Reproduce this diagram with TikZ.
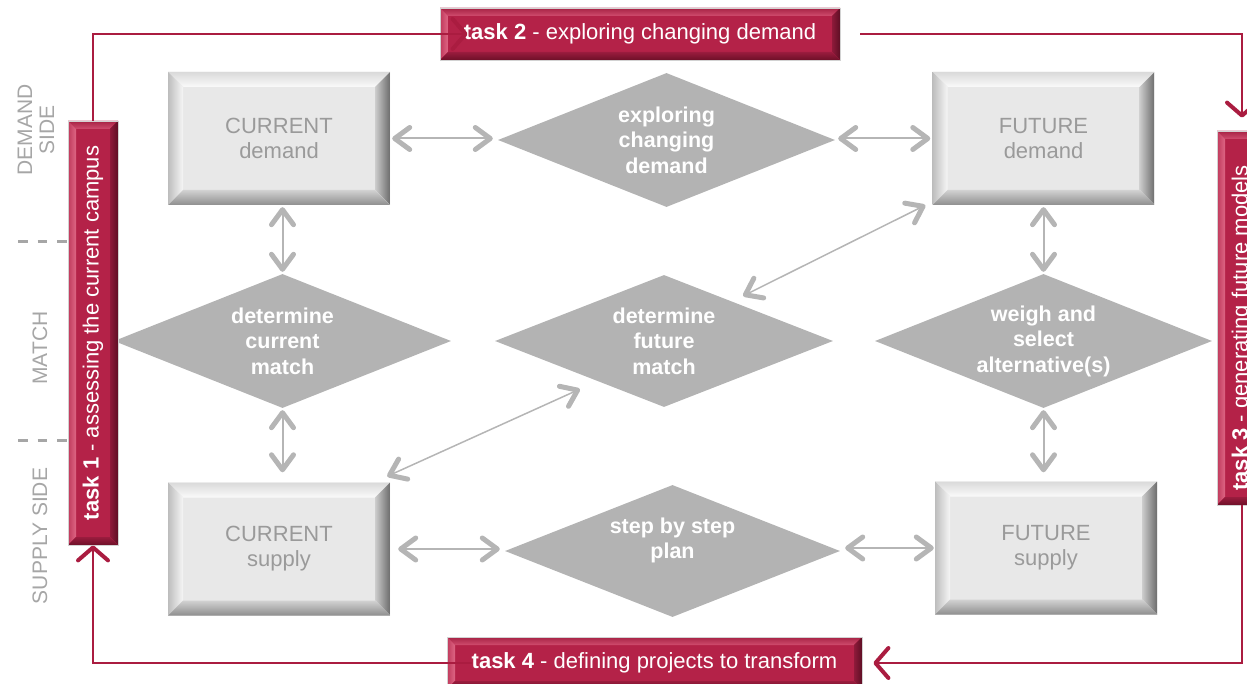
\documentclass[tikz,border=0pt]{standalone}
\usepackage{fontspec}
\setmainfont{Liberation Sans}
\usepackage{graphicx}
\usetikzlibrary{shapes.geometric,arrows.meta,calc}

% palette
\definecolor{boxface}{HTML}{E8E8E8}
\definecolor{boxtext}{HTML}{9A9A9A}
\definecolor{diafill}{HTML}{B3B3B3}
\definecolor{agrey}{HTML}{B5B5B5}
\definecolor{sidegrey}{HTML}{A6A6A6}
\definecolor{crimson}{RGB}{180,34,72}
\definecolor{crimsonline}{RGB}{170,28,64}
\definecolor{bannerrim}{HTML}{D2D2D2}
% bevel shades, grey boxes
\definecolor{gTopO}{HTML}{DADADA}
\definecolor{gTopI}{HTML}{FAFAFA}
\definecolor{gLeftO}{HTML}{BDBDBD}
\definecolor{gLeftI}{HTML}{F6F6F6}
\definecolor{gRightI}{HTML}{CDCDCD}
\definecolor{gRightO}{HTML}{6C6C6C}
\definecolor{gBotI}{HTML}{D2D2D2}
\definecolor{gBotO}{HTML}{8E8E8E}
% bevel shades, crimson banners
\definecolor{rTopO}{HTML}{A62244}
\definecolor{rTopI}{HTML}{D04C6E}
\definecolor{rLeftO}{HTML}{C03A5C}
\definecolor{rLeftI}{HTML}{DE6684}
\definecolor{rRightI}{HTML}{8E1A3A}
\definecolor{rRightO}{HTML}{5E0E24}
\definecolor{rBotI}{HTML}{9A1C3E}
\definecolor{rBotO}{HTML}{6E1028}

% four shaded trapezoids along the edges of the current path
% #1 depth, #2/#3 top outer/inner, #4/#5 left outer/inner,
% #6/#7 right inner/outer, #8/#9 bottom inner/outer
\newcommand{\bevelpaint}[9]{%
  \coordinate (bvA) at (path picture bounding box.north west);
  \coordinate (bvB) at (path picture bounding box.north east);
  \coordinate (bvC) at (path picture bounding box.south east);
  \coordinate (bvD) at (path picture bounding box.south west);
  \coordinate (bva) at ([xshift=#1,yshift=-#1]bvA);
  \coordinate (bvb) at ([xshift=-#1,yshift=-#1]bvB);
  \coordinate (bvc) at ([xshift=-#1,yshift=#1]bvC);
  \coordinate (bvd) at ([xshift=#1,yshift=#1]bvD);
  \fill[top color=#2,bottom color=#3] (bvA)--(bvB)--(bvb)--(bva)--cycle;
  \fill[left color=#4,right color=#5] (bvA)--(bva)--(bvd)--(bvD)--cycle;
  \fill[left color=#6,right color=#7] (bvB)--(bvC)--(bvc)--(bvb)--cycle;
  \fill[top color=#8,bottom color=#9] (bvD)--(bvd)--(bvc)--(bvC)--cycle;
}

\tikzset{
  greybox/.style={rectangle, fill=boxface, inner sep=0pt,
    minimum width=222pt, minimum height=133pt, align=center,
    text=boxtext, font=\fontsize{22}{25}\selectfont,
    path picture={\bevelpaint{15pt}{gTopO}{gTopI}{gLeftO}{gLeftI}{gRightI}{gRightO}{gBotI}{gBotO}}},
  choice/.style={diamond, aspect=2.5, fill=diafill, inner sep=0pt,
    minimum width=337pt, minimum height=134pt, align=center,
    text=white, font=\bfseries\fontsize{21.5}{25.5}\selectfont},
  banner/.style={rectangle, fill=crimson, draw=bannerrim, line width=0.8pt,
    inner sep=0pt, text=white, font=\fontsize{22}{26}\selectfont,
    path picture={\bevelpaint{8pt}{rTopO}{rTopI}{rLeftO}{rLeftI}{rRightI}{rRightO}{rBotI}{rBotO}}},
  sidelabel/.style={rotate=90, align=center, text=sidegrey,
    font=\fontsize{21}{22}\selectfont, inner sep=0pt},
  garrow/.style={draw=agrey, line width=2pt, <->,
    >={Straight Barb[length=15pt,width=22pt,line width=5pt,round]}},
  gdiag/.style={garrow, line width=1.5pt},
  taskflow/.style={draw=crimsonline, line width=1.5pt, ->,
    >={Straight Barb[length=13pt,width=30pt,line width=4pt,round]}},
  separator/.style={draw=sidegrey, line width=3pt, dash pattern=on 9.5pt off 10pt},
}

\begin{document}
\begin{tikzpicture}[x=1pt, y=-1pt]
\useasboundingbox (0,0) rectangle (1247,684);

% demand / match / supply boxes and decisions
\node[greybox] (cd) at (279,138.5) {CURRENT\\demand};
\node[greybox] (fd) at (1043.5,138.5) {FUTURE\\demand};
\node[greybox] (cs) at (279,549) {CURRENT\\supply};
\node[greybox] (fs) at (1046,548) {FUTURE\\supply};

\node[choice] (ecd) at (666.5,140) {exploring\\changing\\demand};
\node[choice] (dcm) at (282.5,341) {determine\\current\\match};
\node[choice, minimum width=338pt, minimum height=132pt] (dfm) at (664,341) {determine\\future\\match};
\node[choice] (wsa) at (1043.5,341) {weigh and\\select\\alternative(s)};
\node[choice, minimum width=335pt, minimum height=132pt] (sbs) at (672.5,551) {step by step\\plan\\\mbox{}};

% two-way links
\draw[garrow, shorten <=2pt, shorten >=5pt] (cd.east) -- (cd.east -| ecd.west);
\draw[garrow, shorten <=3pt, shorten >=2pt] (ecd.east |- fd.west) -- (fd.west);
\draw[garrow, shorten <=2pt, shorten >=2pt] (dcm.north |- cd.south) -- (dcm.north);
\draw[garrow, shorten <=2pt, shorten >=10pt] (dcm.south) -- (dcm.south |- cs.north);
\draw[garrow, shorten <=2pt, shorten >=2pt] (wsa.north |- fd.south) -- (wsa.north);
\draw[garrow, shorten <=2pt, shorten >=9pt] (wsa.south) -- (wsa.south |- fs.north);
\draw[garrow, shorten <=8pt, shorten >=5pt] (cs.east) -- (cs.east -| sbs.west);
\draw[garrow, shorten <=5pt, shorten >=1pt] (sbs.east |- fs.west) -- (fs.west);
\draw[gdiag] ([shift={(-7,0)}]fd.south west) -- ([shift={(-5.5,-12)}]dfm.north east);
\draw[gdiag] ([shift={(-3,-6)}]cs.north east) -- ([shift={(0.5,15)}]dfm.south west);

% side labels and separators
\node[sidelabel] (lds) at (36,130) {DEMAND\\SIDE};
\node[sidelabel] (lm) at (40,348) {MATCH};
\node[sidelabel] (lss) at (40,536) {SUPPLY SIDE};
\draw[separator] (18,242) -- (68,242);
\draw[separator] (18,440) -- (68,440);

% task banners
\node[banner, minimum width=50pt, minimum height=424pt] (t1) at (93,333)
  {\rotatebox{90}{\textbf{task 1} - assessing the current campus}};
\node[banner, minimum width=400pt, minimum height=52pt] (t2) at (640,34)
  {\textbf{task 2} - exploring changing demand};
\node[banner, minimum width=50pt, minimum height=374pt] (t3) at (1242,318)
  {\rotatebox{90}{\textbf{task 3} - generating future models\hspace{20pt}}};
\node[banner, minimum width=415pt, minimum height=52pt] (t4) at (654.5,663)
  {\textbf{task 4} - defining projects to transform};

% task cycle
\draw[taskflow] (t1.north) -- (t1.north |- t2.west) -- ([xshift=28pt]t2.west);
\draw[taskflow] ([xshift=20pt]t2.east) -- (t3.north |- t2.east) -- ([yshift=13pt]t3.north);
\draw[taskflow] (t3.south) -- (t3.south |- t4.east) -- ([xshift=11pt]t4.east);
\draw[taskflow] ([xshift=25pt]t4.west) -- (t1.south |- t4.west) -- (t1.south);
\end{tikzpicture}
\end{document}
